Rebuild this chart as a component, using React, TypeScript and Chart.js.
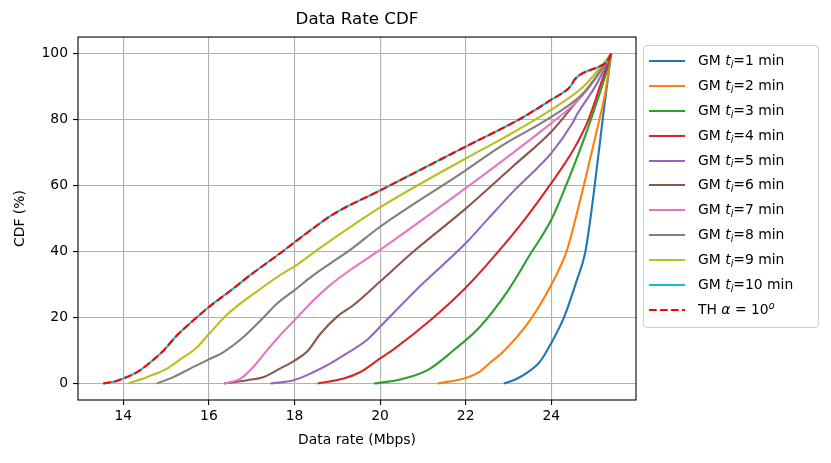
import { useEffect, useRef } from 'react'
import { Chart, registerables } from 'chart.js'

Chart.register(...registerables)

const xTicks = [14, 16, 18, 20, 22, 24]
const yTicks = [0, 20, 40, 60, 80, 100]
const minutes = [1, 2, 3, 4, 5, 6, 7, 8, 9, 10]
const colors = ['#1f77b4', '#ff7f0e', '#2ca02c', '#d62728', '#9467bd', '#8c564b', '#e377c2', '#7f7f7f', '#bcbd22', '#17becf']
const thColor = '#ff0000'

// [data rate (Mbps), CDF (%)]
const gm1 = [[22.89, 0], [23.16, 1.2], [23.43, 3.2], [23.74, 6.7], [24.0, 12.3], [24.29, 19.8], [24.6, 31.4], [24.79, 39.5], [24.91, 49.5], [25.07, 65.9], [25.22, 82], [25.34, 94.1], [25.4, 100]]
const gm2 = [[21.34, 0], [22.0, 1.7], [22.34, 3.7], [22.57, 6.3], [22.85, 9.3], [23.51, 19.3], [24.0, 29.9], [24.37, 40.5], [24.56, 49.6], [24.83, 63.8], [25.07, 77], [25.26, 88.1], [25.4, 100]]
const gm3 = [[19.86, 0], [20.47, 1.2], [21.13, 4.2], [21.71, 10], [22.34, 17.3], [23.0, 28.4], [23.5, 39], [24.0, 49.6], [24.4, 61.8], [24.76, 73.9], [25.03, 84], [25.26, 93.1], [25.4, 100]]
const gm4 = [[18.54, 0], [19.15, 1.5], [19.54, 3.5], [20.0, 7.6], [20.33, 10.5], [21.25, 20], [22.0, 29], [22.73, 39.5], [23.43, 50.6], [24.0, 60.7], [24.52, 70.9], [24.87, 80], [25.14, 90.1], [25.4, 100]]
const gm5 = [[17.44, 0], [17.98, 1], [18.45, 3.5], [18.84, 6.1], [19.22, 9.1], [19.69, 13.2], [20.0, 17.2], [20.86, 28.6], [22.0, 42.5], [22.5, 49.6], [23.12, 58.3], [24.0, 69.8], [24.5, 79], [24.6, 81.5], [25.07, 91], [25.4, 100]]
const gm6 = [[16.35, 0], [16.9, 1], [17.28, 2], [17.67, 4.6], [17.98, 6.8], [18.29, 9.6], [18.6, 15], [18.99, 20.2], [19.38, 23.8], [20.0, 30.9], [20.78, 40], [22.0, 53], [23.12, 66], [24.0, 76.3], [24.5, 84], [25.0, 92], [25.4, 100]]
const gm7 = [[16.36, 0], [16.74, 1.5], [17.01, 4.6], [17.36, 10.1], [17.67, 14.7], [18.0, 19.2], [18.45, 25.3], [18.84, 29.9], [19.3, 34.4], [20.0, 40.5], [22.0, 59.2], [22.81, 67], [24.0, 78.9], [24.6, 85.5], [25.07, 93.1], [25.4, 100]]
const gm8 = [[14.78, 0], [15.18, 2], [15.57, 4.6], [16.0, 7.3], [16.35, 9.6], [16.8, 14], [17.2, 19], [17.6, 24.3], [18.0, 28.3], [18.45, 32.9], [18.84, 36.4], [19.3, 40.5], [20.0, 47.5], [22.0, 64.6], [22.81, 71.8], [24.0, 80.8], [24.76, 88.1], [25.14, 94.6], [25.4, 100]]
const gm9 = [[14.12, 0], [14.56, 2], [15.03, 4.6], [15.34, 7.4], [15.69, 10.6], [16.0, 15], [16.4, 20.6], [16.74, 24.3], [17.28, 29.4], [17.67, 32.9], [18.0, 35.5], [18.5, 40.2], [19.54, 49.5], [20.0, 53.4], [22.0, 68.2], [22.81, 73.9], [24.0, 83], [24.76, 90.1], [25.14, 95.7], [25.4, 100]]
const gm10 = [[13.53, 0], [13.82, 0.7], [14.0, 1.5], [14.33, 3.5], [14.6, 6.1], [14.91, 9.6], [15.26, 14.7], [15.65, 19.3], [16.0, 23.2], [16.5, 28.1], [16.97, 32.9], [17.36, 36.6], [17.72, 40], [18.0, 42.8], [18.92, 51.4], [20.0, 58.5], [22.0, 71.8], [23.3, 80.4], [24.0, 86], [24.4, 89.4], [24.47, 90.5], [24.55, 92.2], [25.14, 96.2], [25.29, 97.4], [25.4, 100]]
const th = [[13.53, 0], [13.82, 0.7], [14.0, 1.5], [14.33, 3.5], [14.6, 6.1], [14.91, 9.6], [15.26, 14.7], [15.65, 19.3], [16.0, 23.2], [16.5, 28.1], [16.97, 32.9], [17.36, 36.6], [17.72, 40], [18.0, 42.8], [18.92, 51.4], [20.0, 58.5], [22.0, 71.8], [23.3, 80.4], [24.0, 86], [24.4, 89.4], [24.47, 90.5], [24.55, 92.2], [25.14, 96.2], [25.29, 97.4], [25.4, 100]]

const gmSeries = [gm1, gm2, gm3, gm4, gm5, gm6, gm7, gm8, gm9, gm10]

const FONT = 'DejaVu Sans'
const dash = [7.7, 3.3]

// box round the plot area, like matplotlib spines
const frame = {
  id: 'frame',
  afterDatasetsDraw(chart: any) {
    const { ctx, chartArea: a } = chart
    ctx.save()
    ctx.strokeStyle = '#000'
    ctx.lineWidth = 1.1
    ctx.strokeRect(a.left, a.top, a.right - a.left, a.bottom - a.top)
    ctx.restore()
  },
}

function Swatch({ color, dashed }: { color: string; dashed?: boolean }) {
  return (
    <svg width={36} height={6} style={{ display: 'block', flex: 'none' }}>
      <line x1={0} y1={3} x2={36} y2={3} stroke={color} strokeWidth={2.1}
        strokeDasharray={dashed ? dash.join(' ') : undefined} />
    </svg>
  )
}

export default function App() {
  const canvasRef = useRef<HTMLCanvasElement>(null)
  const chartRef = useRef<Chart | null>(null)

  useEffect(() => {
    if (!canvasRef.current) return
    if (chartRef.current) chartRef.current.destroy()

    const toPts = (s: number[][]) => s.map(([x, y]) => ({ x, y }))
    // chart.js paints low "order" last, so later series end up on top like matplotlib
    const datasets: any[] = gmSeries.map((s, i) => ({
      label: `GM ti=${minutes[i]} min`,
      data: toPts(s),
      borderColor: colors[i],
      borderWidth: 2.1,
      pointRadius: 0,
      order: gmSeries.length - i,
      cubicInterpolationMode: 'monotone',
    }))
    datasets.push({
      label: 'TH α=10o',
      data: toPts(th),
      borderColor: thColor,
      borderWidth: 2.1,
      borderDash: dash,
      pointRadius: 0,
      order: 0,
      cubicInterpolationMode: 'monotone',
    })

    const tickFont = { family: FONT, size: 13.9 }
    const grid = { color: '#b0b0b0', lineWidth: 1.1, tickColor: '#000', tickLength: 5, tickWidth: 1.1 }

    chartRef.current = new Chart(canvasRef.current, {
      type: 'line',
      data: { datasets },
      plugins: [frame],
      options: {
        animation: false,
        responsive: false,
        layout: { padding: { left: 0, right: 195, top: 0, bottom: 0 } },
        plugins: {
          legend: { display: false },
          tooltip: { enabled: false },
          title: {
            display: true,
            text: 'Data Rate CDF',
            fullSize: false,
            color: '#000',
            font: { family: FONT, size: 16.7, weight: 'normal' },
            padding: { top: 10, bottom: 7 },
          },
        },
        scales: {
          x: {
            type: 'linear',
            min: 12.94,
            max: 25.98,
            afterBuildTicks: (s: any) => { s.ticks = xTicks.map(v => ({ value: v })) },
            afterFit: (s: any) => { s.height = 63 },
            ticks: { font: tickFont, color: '#000', padding: 3, maxRotation: 0 },
            grid,
            border: { display: false },
            title: {
              display: true,
              text: 'Data rate (Mbps)',
              color: '#000',
              font: { family: FONT, size: 13.9 },
              padding: { top: 0, bottom: 14.5 },
            },
          },
          y: {
            type: 'linear',
            min: -5,
            max: 105,
            afterBuildTicks: (s: any) => { s.ticks = yTicks.map(v => ({ value: v })) },
            afterFit: (s: any) => { s.width = 78 },
            ticks: { font: tickFont, color: '#000', padding: 5 },
            grid,
            border: { display: false },
            title: {
              display: true,
              text: 'CDF (%)',
              color: '#000',
              font: { family: FONT, size: 13.9 },
              padding: { top: 12, bottom: 0 },
            },
          },
        },
      },
    } as any)

    return () => { chartRef.current?.destroy(); chartRef.current = null }
  }, [])

  const rowH = 24.9
  const textStyle = { fontFamily: FONT, fontSize: 13.9, color: '#000', whiteSpace: 'nowrap' as const, marginLeft: 13, lineHeight: 1 }
  const sub = { fontSize: '70%', position: 'relative' as const, top: '0.3em' }

  return (
    <div style={{ position: 'fixed', left: 0, top: 0, width: 831, height: 463, background: '#fff' }}>
      <canvas ref={canvasRef} width={831} height={463} style={{ display: 'block' }} />
      <div style={{
        position: 'absolute', left: 643, top: 45, width: 174, height: 278,
        border: '1px solid #cccccc', borderRadius: 4, background: 'rgba(255,255,255,0.8)',
        paddingTop: 2.5, boxSizing: 'content-box',
      }}>
        {minutes.map((m, i) => (
          <div key={m} style={{ height: rowH, display: 'flex', alignItems: 'center', paddingLeft: 5 }}>
            <Swatch color={colors[i]} />
            <span style={textStyle}>
              GM <i>t</i><i style={sub}>i</i>={m} min
            </span>
          </div>
        ))}
        <div style={{ height: rowH, display: 'flex', alignItems: 'center', paddingLeft: 5 }}>
          <Swatch color={thColor} dashed />
          <span style={textStyle}>
            TH <i>α</i> = 10<i style={{ fontSize: '70%', position: 'relative', top: '-0.55em' }}>o</i>
          </span>
        </div>
      </div>
    </div>
  )
}
